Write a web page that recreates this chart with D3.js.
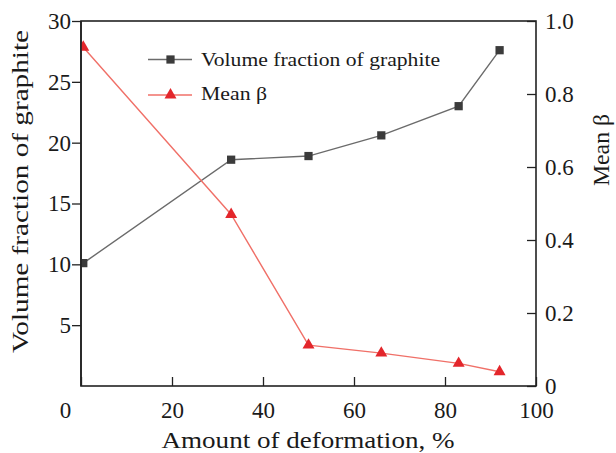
<!DOCTYPE html>
<html><head><meta charset="utf-8">
<script src="https://cdn.jsdelivr.net/npm/d3@7"></script>
<style>
body{margin:0;background:#fff}
</style>
</head><body>
<svg id="c" width="616" height="453"></svg>
<script>
const deformation = [0.5, 33, 50, 66, 83, 92];
const graphite = [10.1, 18.6, 18.9, 20.6, 23.0, 27.6];
const meanBeta = [0.928, 0.47, 0.112, 0.09, 0.062, 0.039];
const xTicks = [0, 20, 40, 60, 80, 100];
const yLeftTicks = [5, 10, 15, 20, 25, 30];
const yRightTicks = [0, 0.2, 0.4, 0.6, 0.8, 1.0];
const seriesNames = ["Volume fraction of graphite", "Mean β"];
const xTitle = "Amount of deformation, %";
const yLeftTitle = "Volume fraction of graphite";
const yRightTitle = "Mean β";

const FONT = "'Liberation Serif', 'Times New Roman', Times, 'DejaVu Serif', serif";
const L = 81, R = 536, T = 21, B = 386;
const svg = d3.select("#c");
const x = d3.scaleLinear().domain([0, 100]).range([L, R]);
const yL = d3.scaleLinear().domain([0, 30]).range([B, T]);
const yR = d3.scaleLinear().domain([0, 1]).range([B, T]);
const axisColor = "#222";
const gray = "#6b6b6b", sqFill = "#3b3b3b", red = "#f07068", triFill = "#e3262b";

// x axis (ticks inward)
const gx = svg.append("g").attr("transform", `translate(0,${B})`)
  .call(d3.axisBottom(x).tickValues(xTicks).tickSize(-9).tickPadding(14).tickFormat(d3.format("d")));
gx.selectAll("text").attr("dy", "0.71em").attr("y", 16);
gx.selectAll(".tick").filter(d => d === 0).select("text").attr("x", -16);

// left axis (ticks outward)
const gl = svg.append("g").attr("transform", `translate(${L},0)`)
  .call(d3.axisLeft(yL).tickValues(yLeftTicks).tickSize(9).tickPadding(1).tickFormat(d3.format("d")));

// right axis (ticks inward)
const gr = svg.append("g").attr("transform", `translate(${R},0)`)
  .call(d3.axisRight(yR).tickValues(yRightTicks).tickSize(-9).tickPadding(9)
    .tickFormat(d => d === 0 ? "0" : d3.format(".1f")(d)));

[gx, gl, gr].forEach(g => {
  g.attr("font-family", null).attr("font-size", null);
  g.select(".domain").remove();
  g.selectAll("line").attr("stroke", axisColor).attr("stroke-width", 1.3);
  g.selectAll("text").style("font-family", FONT).style("font-size", "23px").attr("fill", "#1a1a1a");
});

// frame
svg.append("rect").attr("x", L).attr("y", T).attr("width", R - L).attr("height", B - T)
  .attr("fill", "none").attr("stroke", axisColor).attr("stroke-width", 1.6);

svg.append("clipPath").attr("id", "pc").append("rect")
  .attr("x", L).attr("y", T - 10).attr("width", R - L + 10).attr("height", B - T + 20);

const pts1 = deformation.map((d, i) => [d, graphite[i]]);
const pts2 = deformation.map((d, i) => [d, meanBeta[i]]);

const plot = svg.append("g").attr("clip-path", "url(#pc)");
plot.append("path").datum(pts1)
  .attr("d", d3.line().x(d => x(d[0])).y(d => yL(d[1])))
  .attr("fill", "none").attr("stroke", gray).attr("stroke-width", 1.4);
plot.append("path").datum(pts2)
  .attr("d", d3.line().x(d => x(d[0])).y(d => yR(d[1])))
  .attr("fill", "none").attr("stroke", red).attr("stroke-width", 1.4);

const sq = d3.symbol().type(d3.symbolSquare).size(68);
const tri = d3.symbol().type(d3.symbolTriangle).size(62);
plot.selectAll(".sq").data(pts1).join("path")
  .attr("transform", d => `translate(${x(d[0])},${yL(d[1])})`)
  .attr("d", sq).attr("fill", sqFill);
plot.selectAll(".tri").data(pts2).join("path")
  .attr("transform", d => `translate(${x(d[0])},${yR(d[1])})`)
  .attr("d", tri).attr("fill", triFill);

svg.append("line").attr("x1", L).attr("x2", L).attr("y1", T).attr("y2", B)
  .attr("stroke", axisColor).attr("stroke-width", 1.6);

function styled(sel, size, len) {
  sel.style("font-family", FONT).style("font-size", size + "px").attr("fill", "#1a1a1a");
  if (len) sel.attr("textLength", len).attr("lengthAdjust", "spacingAndGlyphs");
  return sel;
}

// legend
const leg = [
  {name: seriesNames[0], y: 59.5, base: 66, len: 239, stroke: gray, fill: sqFill, sym: sq},
  {name: seriesNames[1], y: 95, base: 100, len: 66, stroke: red, fill: triFill, sym: tri}
];
leg.forEach(l => {
  svg.append("line").attr("x1", 148).attr("x2", 192).attr("y1", l.y).attr("y2", l.y)
    .attr("stroke", l.stroke).attr("stroke-width", 1.4);
  svg.append("path").attr("transform", `translate(170.5,${l.y})`).attr("d", l.sym).attr("fill", l.fill);
  styled(svg.append("text").attr("x", 201).attr("y", l.base), 19.5, l.len).text(l.name);
});

// titles
styled(svg.append("text").attr("x", 308).attr("y", 448).attr("text-anchor", "middle"), 23.5, 293).text(xTitle);
styled(svg.append("text").attr("transform", `translate(27.5,191.5) rotate(-90)`)
  .attr("text-anchor", "middle"), 23.5, 323).text(yLeftTitle);
styled(svg.append("text").attr("transform", `translate(609,150) rotate(-90)`)
  .attr("text-anchor", "middle"), 23.5, 72).text(yRightTitle);
</script>
</body></html>
